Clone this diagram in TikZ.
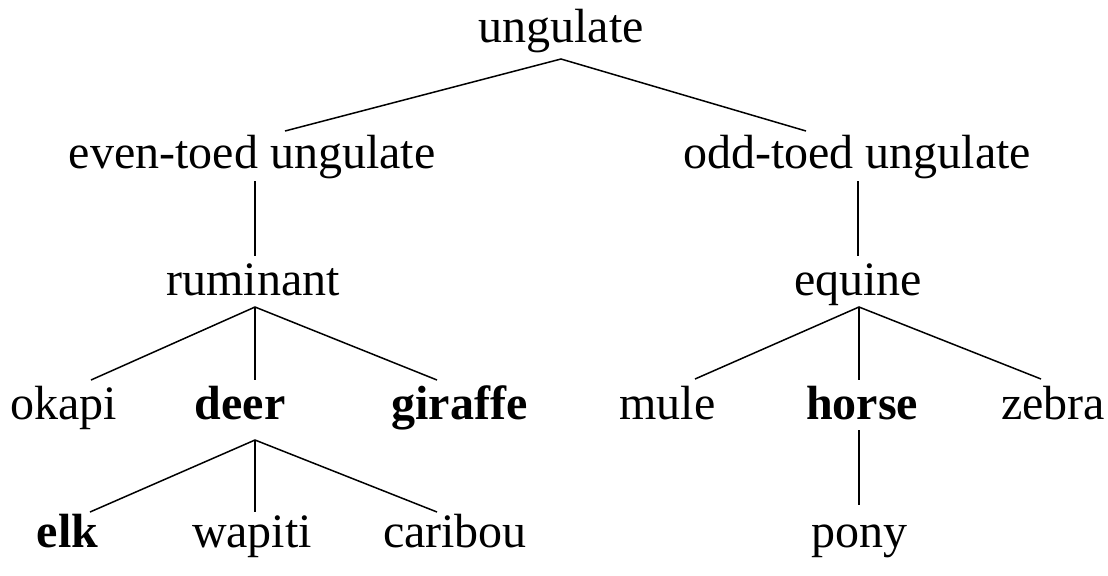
\documentclass[tikz,border=0pt]{standalone}
\usepackage{fontspec}
\setmainfont{Liberation Serif}
\begin{document}
\begin{tikzpicture}[x=0.5pt,y=-0.5pt,
  lbl/.style={anchor=base,inner sep=0pt,font=\fontsize{24}{28}\selectfont},
  bflbl/.style={anchor=base,inner sep=0pt,font=\fontsize{24}{28}\selectfont\bfseries},
  edge/.style={draw=black,line width=0.75pt}]
\useasboundingbox (0,0) rectangle (1108,575);
% labels
\node[lbl] (ung) at (561,42) {ungulate};
\node[lbl] (even) at (252,168) {even-toed ungulate};
\node[lbl] (odd) at (857,168) {odd-toed ungulate};
\node[lbl] (rum) at (253,295) {ruminant};
\node[lbl] (equ) at (858,295) {equine};
\node[lbl] (okapi) at (64,419) {okapi};
\node[bflbl] (deer) at (240,419) {deer};
\node[bflbl] (giraffe) at (459.5,419) {giraffe};
\node[lbl] (mule) at (667.5,419) {mule};
\node[bflbl] (horse) at (862,419) {horse};
\node[lbl] (zebra) at (1053,419) {zebra};
\node[bflbl] (elk) at (67.5,547) {elk};
\node[lbl] (wapiti) at (252,547) {wapiti};
\node[lbl] (caribou) at (455,547) {caribou};
\node[lbl] (pony) at (859,547) {pony};
% attachment points
\coordinate (ungB) at (561,59);
\coordinate (evenT) at (285,131);
\coordinate (oddT) at (806,131);
\coordinate (evenB) at (255,181);
\coordinate (rumT) at (255,256);
\coordinate (oddB) at (858,181);
\coordinate (equT) at (858,256);
\coordinate (rumB) at (255,307);
\coordinate (okapiT) at (91,380);
\coordinate (deerT) at (255,380);
\coordinate (giraffeT) at (437,380);
\coordinate (equB) at (859,307);
\coordinate (muleT) at (695,379);
\coordinate (horseT) at (859,380);
\coordinate (zebraT) at (1041,379);
\coordinate (deerB) at (255,440);
\coordinate (elkT) at (90,512);
\coordinate (wapitiT) at (255,512);
\coordinate (caribouT) at (437,512);
\coordinate (horseB) at (859,430);
\coordinate (ponyT) at (859,505);
% connectors
\draw[edge] (evenT) -- (ungB) -- (oddT);
\draw[edge] (evenB) -- (rumT);
\draw[edge] (oddB) -- (equT);
\draw[edge] (okapiT) -- (rumB) -- (giraffeT);
\draw[edge] (rumB) -- (deerT);
\draw[edge] (muleT) -- (equB) -- (zebraT);
\draw[edge] (equB) -- (horseT);
\draw[edge] (elkT) -- (deerB) -- (caribouT);
\draw[edge] (deerB) -- (wapitiT);
\draw[edge] (horseB) -- (ponyT);
\end{tikzpicture}
\end{document}
